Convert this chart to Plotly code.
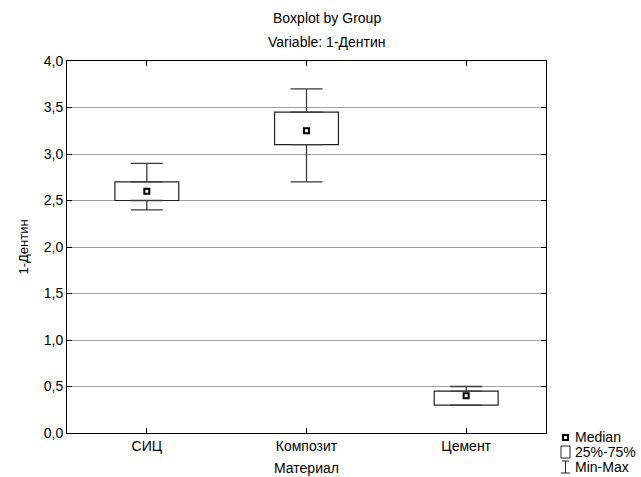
import plotly.graph_objects as go

categories = ["СИЦ", "Композит", "Цемент"]
mins = [2.4, 2.7, 0.3]
q1s = [2.5, 3.1, 0.3]
medians = [2.6, 3.25, 0.4]
q3s = [2.7, 3.45, 0.45]
maxs = [2.9, 3.7, 0.5]

FONT = "Liberation Sans, Arial, sans-serif"
WH = "#3a3a3a"

fig = go.Figure()

# upper whiskers (q3 -> max)
fig.add_trace(go.Scatter(
    x=categories, y=q3s, mode="markers",
    marker=dict(size=1, color="rgba(0,0,0,0)"),
    error_y=dict(type="data", symmetric=False,
                 array=[mx - q for mx, q in zip(maxs, q3s)],
                 arrayminus=[0] * len(q3s),
                 color=WH, thickness=1.3, width=16),
    showlegend=False, hoverinfo="skip"))
# lower whiskers (min -> q1)
fig.add_trace(go.Scatter(
    x=categories, y=q1s, mode="markers",
    marker=dict(size=1, color="rgba(0,0,0,0)"),
    error_y=dict(type="data", symmetric=False,
                 array=[0] * len(q1s),
                 arrayminus=[q - mn for q, mn in zip(q1s, mins)],
                 color=WH, thickness=1.3, width=16),
    showlegend=False, hoverinfo="skip"))
# boxes (q1 -> q3)
fig.add_trace(go.Bar(
    x=categories, base=q1s, y=[b - a for a, b in zip(q1s, q3s)],
    width=0.4, marker=dict(color="white", line=dict(color="#222", width=1.2)),
    showlegend=False))
# medians
fig.add_trace(go.Scatter(
    x=categories, y=medians, mode="markers",
    marker=dict(symbol="square", size=5, color="white",
                line=dict(color="black", width=2)),
    showlegend=False))

fig.update_layout(
    width=641, height=477,
    margin=dict(l=67, r=95, t=61, b=44),
    paper_bgcolor="white", plot_bgcolor="white",
    separators=", ",
    font=dict(family=FONT, size=14, color="black"),
    showlegend=False,
    barmode="overlay",
)

fig.update_xaxes(
    showline=True, linecolor="black", linewidth=1, mirror="ticks",
    ticks="inside", ticklen=5, tickcolor="black",
    showgrid=False, tickfont=dict(size=14),
    automargin=False,
)
fig.update_yaxes(
    range=[0, 4], dtick=0.5, tickformat=".1f",
    showline=True, linecolor="black", linewidth=1, mirror="ticks",
    ticks="inside", ticklen=5, tickcolor="black",
    showgrid=True, gridcolor="#a0a0a0", gridwidth=1,
    zeroline=False, tickfont=dict(size=14),
    title=dict(text="1-Дентин", font=dict(size=13), standoff=12),
    automargin=False,
)

def px(xp):
    return (xp - 67) / 479

def py(yp):
    return (433 - yp) / 372

# titles
fig.add_annotation(text="Boxplot by Group", xref="paper", yref="paper",
                   x=px(327), y=py(18), showarrow=False,
                   font=dict(size=14), xanchor="center", yanchor="middle")
fig.add_annotation(text="Variable: 1-Дентин", xref="paper", yref="paper",
                   x=px(327), y=py(42), showarrow=False,
                   font=dict(size=14), xanchor="center", yanchor="middle")
# x axis title
fig.add_annotation(text="Материал", xref="paper", yref="paper",
                   x=px(306), y=py(468), showarrow=False,
                   font=dict(size=14), xanchor="center", yanchor="middle")

# custom legend
legend_items = ["Median", "25%-75%", "Min-Max"]
ys = [437, 452, 467]
for label, yy in zip(legend_items, ys):
    fig.add_annotation(text=label, xref="paper", yref="paper", x=px(573), y=py(yy),
                       xanchor="left", yanchor="middle", showarrow=False,
                       font=dict(size=14))
# median icon
fig.add_shape(type="rect", xref="paper", yref="paper",
              x0=px(563), x1=px(568), y0=py(435), y1=py(440),
              line=dict(color="black", width=2), fillcolor="white")
# box icon
fig.add_shape(type="rect", xref="paper", yref="paper",
              x0=px(561), x1=px(570), y0=py(446), y1=py(458),
              line=dict(color="#222", width=1), fillcolor="white")
# whisker icon
fig.add_shape(type="line", xref="paper", yref="paper",
              x0=px(565.5), x1=px(565.5), y0=py(461), y1=py(473),
              line=dict(color="#222", width=1))
fig.add_shape(type="line", xref="paper", yref="paper",
              x0=px(562), x1=px(569), y0=py(461), y1=py(461),
              line=dict(color="#222", width=1))
fig.add_shape(type="line", xref="paper", yref="paper",
              x0=px(561), x1=px(570), y0=py(473), y1=py(473),
              line=dict(color="#222", width=1))

fig.write_html("out.html")
